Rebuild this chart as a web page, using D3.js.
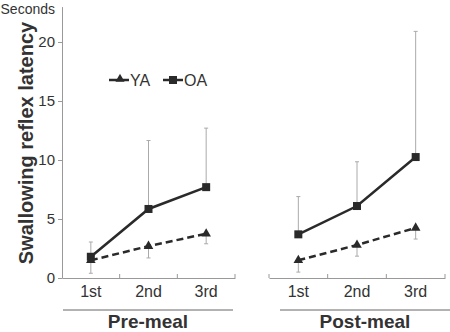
<!DOCTYPE html>
<html>
<head>
<meta charset="utf-8">
<script src="https://cdn.jsdelivr.net/npm/d3@7"></script>
<style>
  body { margin: 0; background: #fff; }
  svg { display: block; font-family: "Liberation Sans", Arial, sans-serif; }
</style>
</head>
<body>
<svg id="svg"></svg>
<script>
// categories and values (seconds)
const sessions = ["1st", "2nd", "3rd"];
const panels = ["Pre-meal", "Post-meal"];

const yaPre = [1.5, 2.7, 3.75];
const yaPreLow = [0.4, 1.7, 2.9];
const oaPre = [1.8, 5.85, 7.7];
const oaPreHigh = [3.05, 11.65, 12.7];

const yaPost = [1.5, 2.8, 4.25];
const yaPostLow = [0.5, 1.85, 3.3];
const oaPost = [3.7, 6.1, 10.25];
const oaPostHigh = [6.9, 9.85, 20.9];

const yTicks = [0, 5, 10, 15, 20];

const w = 450;
const h = 332;

let svg = d3.select("#svg")
  .attr("width", w)
  .attr("height", h);

const yScale = d3.scaleLinear()
  .domain([0, 23])
  .range([278, 6.6]);

// y axis
const yAxis = d3.axisLeft(yScale)
  .tickValues(yTicks)
  .tickSize(4)
  .tickSizeOuter(0);
let yg = svg.append("g")
  .attr("transform", "translate(62,0)")
  .call(yAxis);
yg.select(".domain").attr("stroke", "#999");
yg.selectAll(".tick line").attr("stroke", "#999");
yg.selectAll(".tick text")
  .attr("fill", "#333")
  .attr("x", -7)
  .style("font-size", "15px");

svg.append("text")
  .attr("x", 55)
  .attr("y", 14)
  .attr("text-anchor", "end")
  .attr("fill", "#333")
  .attr("font-size", "14px")
  .text("Seconds");

svg.append("text")
  .attr("transform", "translate(33,143) rotate(-90)")
  .attr("text-anchor", "middle")
  .attr("fill", "#333")
  .attr("font-size", "20px")
  .attr("font-weight", "bold")
  .text("Swallowing reflex latency");

const panelSpecs = [
  { name: panels[0], range: [62, 235], ya: yaPre, yaLow: yaPreLow, oa: oaPre, oaHigh: oaPreHigh, under: [63, 233], startTick: false },
  { name: panels[1], range: [269, 445], ya: yaPost, yaLow: yaPostLow, oa: oaPost, oaHigh: oaPostHigh, under: [280, 450], startTick: true }
];

panelSpecs.forEach(p => {
  const xScale = d3.scaleBand()
    .domain(sessions)
    .range(p.range);
  const cx = d => xScale(d) + xScale.bandwidth() / 2;

  const xAxis = d3.axisBottom(xScale).tickSize(0).tickSizeOuter(0);
  let xg = svg.append("g")
    .attr("transform", "translate(0,278)")
    .call(xAxis);
  xg.select(".domain").attr("stroke", "#999");
  xg.selectAll(".tick text")
    .attr("fill", "#333")
    .attr("y", 8)
    .style("font-size", "16px");

  // boundary ticks pointing up
  let bounds = sessions.map(d => xScale(d) + xScale.bandwidth());
  if (p.startTick) bounds.unshift(p.range[0]);
  svg.selectAll(null)
    .data(bounds)
    .enter()
    .append("line")
    .attr("x1", d => d).attr("x2", d => d)
    .attr("y1", 278).attr("y2", 274)
    .attr("stroke", "#999");

  svg.append("line")
    .attr("x1", p.under[0]).attr("x2", p.under[1])
    .attr("y1", 310).attr("y2", 310)
    .attr("stroke", "#666");

  svg.append("text")
    .attr("x", (p.under[0] + p.under[1]) / 2)
    .attr("y", 328)
    .attr("text-anchor", "middle")
    .attr("fill", "#333")
    .attr("font-size", "19px")
    .attr("font-weight", "bold")
    .text(p.name);

  // error bars: OA upward, YA downward
  const bars = sessions.map((s, i) => ({ x: cx(s), from: p.oa[i], to: p.oaHigh[i] }))
    .concat(sessions.map((s, i) => ({ x: cx(s), from: p.ya[i], to: p.yaLow[i] })));
  let eb = svg.selectAll(null).data(bars).enter().append("g");
  eb.append("line")
    .attr("x1", d => d.x).attr("x2", d => d.x)
    .attr("y1", d => yScale(d.from)).attr("y2", d => yScale(d.to))
    .attr("stroke", "#aaa");
  eb.append("line")
    .attr("x1", d => d.x - 2).attr("x2", d => d.x + 2)
    .attr("y1", d => yScale(d.to)).attr("y2", d => yScale(d.to))
    .attr("stroke", "#aaa");

  const line = d3.line()
    .x((d, i) => cx(sessions[i]))
    .y(d => yScale(d));

  svg.append("path")
    .datum(p.ya)
    .attr("d", line)
    .attr("fill", "none")
    .attr("stroke", "#2a2a2a")
    .attr("stroke-width", 2.5)
    .attr("stroke-dasharray", "7,4");

  svg.append("path")
    .datum(p.oa)
    .attr("d", line)
    .attr("fill", "none")
    .attr("stroke", "#2a2a2a")
    .attr("stroke-width", 2.5);

  svg.selectAll(null)
    .data(p.ya)
    .enter()
    .append("path")
    .attr("transform", (d, i) => "translate(" + cx(sessions[i]) + "," + yScale(d) + ")")
    .attr("d", d3.symbol(d3.symbolTriangle, 40))
    .attr("fill", "#2a2a2a");

  svg.selectAll(null)
    .data(p.oa)
    .enter()
    .append("rect")
    .attr("x", (d, i) => cx(sessions[i]) - 4)
    .attr("y", d => yScale(d) - 4)
    .attr("width", 8)
    .attr("height", 8)
    .attr("fill", "#2a2a2a");
});

// legend
const legend = [
  { label: "YA", x: 109, symbol: "tri" },
  { label: "OA", x: 163, symbol: "sq" }
];
legend.forEach(l => {
  svg.append("line")
    .attr("x1", l.x).attr("x2", l.x + 20)
    .attr("y1", 80).attr("y2", 80)
    .attr("stroke", "#2a2a2a")
    .attr("stroke-width", 2.5);
  if (l.symbol === "tri") {
    svg.append("path")
      .attr("transform", "translate(" + (l.x + 11) + ",79)")
      .attr("d", d3.symbol(d3.symbolTriangle, 36))
      .attr("fill", "#2a2a2a");
  } else {
    svg.append("rect")
      .attr("x", l.x + 6).attr("y", 76)
      .attr("width", 8).attr("height", 8)
      .attr("fill", "#2a2a2a");
  }
  svg.append("text")
    .attr("x", l.x + 21)
    .attr("y", 86)
    .attr("fill", "#333")
    .attr("font-size", "16px")
    .text(l.label);
});
</script>
</body>
</html>
